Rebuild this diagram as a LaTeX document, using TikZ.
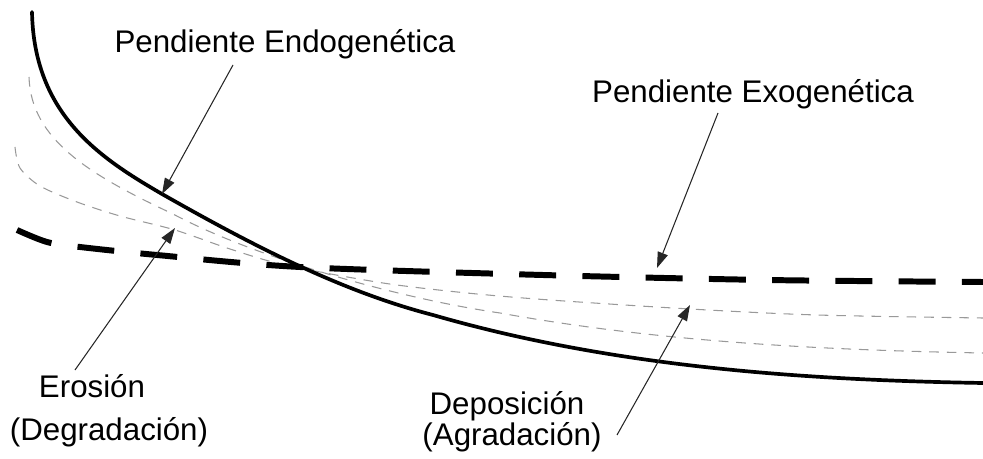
\documentclass[tikz,border=0pt]{standalone}
\usepackage{fontspec}
\setmainfont{Liberation Sans}
\usepackage{tikz}
\usetikzlibrary{arrows.meta,positioning}

\begin{document}
\begin{tikzpicture}[x=0.02cm,y=-0.02cm,
		texto/.style={font=\fontsize{17.8}{23}\selectfont,inner sep=0pt,anchor=base},
		flecha/.style={draw=black!85,line width=0.6pt,-{Triangle[length=9pt,width=6pt]}},
		endo/.style={line width=2.1pt,line cap=round},
		exo/.style={line width=3.4pt,dash pattern=on 21pt off 15pt},
		etapa/.style={draw=black!40,line width=0.6pt,dash pattern=on 5.5pt off 4.5pt}]
		\useasboundingbox (0,0) rectangle (983,459);
		% etapas intermedias
		\draw[etapa] (29,77) .. controls (31,140) and (90,175) .. (173,214)
			.. controls (250,255) and (390,297) .. (500,313)
			.. controls (660,342) and (823,350) .. (983,353);
		\draw[etapa] plot[smooth] coordinates {(15,147) (20,168) (40,186) (77,202) (120,216) (175,230) (230,249) (285,265) (383,283) (467,293) (550,300) (690,309) (817,315) (983,318)};
		% pendientes
		\draw[exo] plot[smooth] coordinates {(17,230) (47,242) (80,247) (157,255) (300,267) (543,275) (767,280) (983,282)};
		\draw[endo] (32,12) .. controls (34,115) and (100,158) .. (162,194)
			.. controls (250,244) and (340,291) .. (433,315)
			.. controls (613,367) and (803,380) .. (983,383);
		\coordinate (endoP) at (162,194);
		\coordinate (exoP) at (657,268);
		\coordinate (eroP) at (175,228);
		\coordinate (depoP) at (690,305);
		\coordinate (endoS) at (233,65);
		\coordinate (exoS) at (718,113);
		\coordinate (eroS) at (75,370);
		\coordinate (depoS) at (617,435);
		% etiquetas
		\node[texto] (endoL) at (285,53) {Pendiente Endogenética};
		\node[texto] (exoL) at (753,103) {Pendiente Exogenética};
		\node[texto] (eroL) at (92,397) {Erosión};
		\node[texto] (degL) at (109,440) {(Degradación)};
		\node[texto] (depoL) at (507,414) {Deposición};
		\node[texto] (agrL) at (512,445) {(Agradación)};
		\draw[flecha] (endoS) -- (endoP);
		\draw[flecha] (exoS) -- (exoP);
		\draw[flecha] (eroS) -- (eroP);
		\draw[flecha] (depoS) -- (depoP);
\end{tikzpicture}
\end{document}
